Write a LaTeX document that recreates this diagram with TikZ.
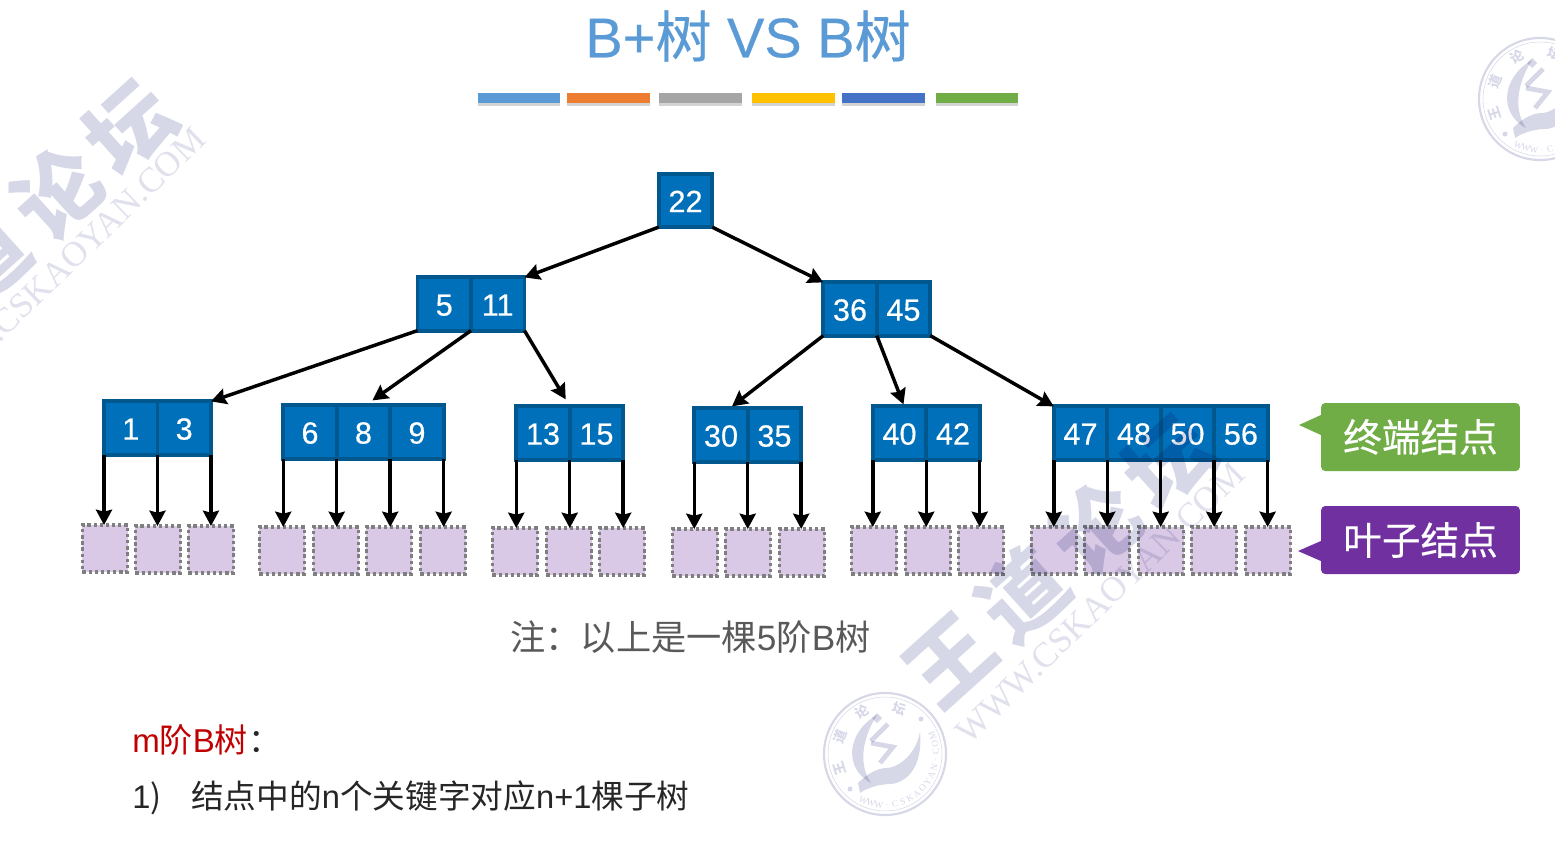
\documentclass[tikz,border=0pt]{standalone}
\usepackage{fontspec}
\usepackage{xcolor}
\setmainfont{Liberation Sans}
\newfontfamily\cjk{Noto Sans CJK SC}
\newfontfamily\heavy[FakeBold=0.35]{Liberation Sans}
\newfontfamily\heavycjk[FakeBold=0.35]{Noto Sans CJK SC}
\newfontfamily\wmserif{Liberation Serif}
\usetikzlibrary{positioning, shadows, arrows.meta}

\definecolor{titleblue}{HTML}{5B9BD5}
\definecolor{keyfill}{HTML}{0070BA}
\definecolor{keyline}{HTML}{00588F}
\definecolor{leaffill}{HTML}{D9C9E6}
\definecolor{leafline}{HTML}{7F7F7F}
\definecolor{wmcolor}{HTML}{D6D7E7}
\definecolor{wmlight}{HTML}{E0E1EC}
\definecolor{taggreen}{HTML}{70AD47}
\definecolor{tagpurple}{HTML}{7030A0}
\definecolor{notegray}{HTML}{595959}
\definecolor{notered}{HTML}{C00000}
\definecolor{notedark}{HTML}{262626}

% full width colon
\newcommand{\widecolon}{\char"FF1A\relax}

\tikzset{
    keycell/.style={draw=keyline, fill=keyfill, line width=2.9pt, outer sep=0pt, inner sep=0pt,
        minimum width=40.1pt, minimum height=39.9pt, text height=17.4pt, text depth=0pt, text=white,
        font=\fontsize{23}{23}\selectfont\heavy},
    leafcell/.style={draw=leafline, fill=leaffill, line width=2.5pt, dash pattern=on 2.5pt off 2.1pt,
        outer sep=0pt, minimum width=33.8pt, minimum height=35.2pt},
    link/.style={->, line width=2.6pt, black},
    tagbox/.style={rounded corners=3pt, inner sep=0pt, minimum width=149pt, minimum height=51pt,
        text=white, font=\fontsize{29}{29}\selectfont\heavycjk},
    bar/.style={drop shadow={shadow xshift=0pt, shadow yshift=-2.2pt, opacity=.35}},
    wmchar/.style={text=wmcolor, inner sep=0pt, rotate=42, font=\fontsize{64}{64}\selectfont\cjk\bfseries},
    wmurl/.style={text=wmlight, inner sep=0pt, rotate=44, font=\fontsize{26.4}{26.4}\selectfont\wmserif},
    stampchar/.style={text=wmcolor, inner sep=0pt, font=\fontsize{10}{10}\selectfont\cjk\bfseries},
    stampurl/.style={text=wmcolor, inner sep=0pt, font=\fontsize{7}{7}\selectfont\wmserif},
}

% big slanted mark, x y of the lower left character
\newcommand{\wmark}[3]{
    \foreach \ch [count=\i from 0] in {王,道,论,坛}
        \node[wmchar] (#3c\i) at (#1+73*\i, #2-66*\i) {\ch};
    \node[wmurl] (#3u) at (#1+150, #2-57) {WWW.CSKAOYAN.COM};
}

% round seal, x y of its centre
\newcommand{\wseal}[3]{
    \begin{scope}[shift={(#1,#2)}]
        \draw[wmcolor, line width=1.6pt] (0,0) circle (61);
        \draw[wmcolor, line width=.4pt] (0,0) circle (57);
        \fill[wmcolor] (36,-35) circle (2.5) (-35,35) circle (2.5);
        % crescent
        \fill[wmcolor] (-8,-39) .. controls (-38,-22) and (-42,14) .. (-14,29)
            .. controls (-26,12) and (-24,-14) .. (-8,-39);
        \fill[wmcolor] (-13,-36) -- (-8,-41) -- (-3,-36) -- (-8,-31) -- cycle;
        % open book
        \fill[wmcolor] (-27,29) .. controls (-16,18) and (-6,14) .. (2,14)
            .. controls (10,14) and (30,4) .. (35,-22)
            .. controls (38,10) and (24,28) .. (6,30)
            .. controls (-6,30) and (-18,34) .. (-25,39) -- cycle;
        % inner figure
        \draw[wmcolor, line width=3.6pt] (-14,-13) -- (3,-30);
        \draw[wmcolor, line width=3.6pt] (-14,-11) -- (8,-7) -- (-5,9);
        \foreach \ch/\ang [count=\i] in {王/198,道/159,论/118,坛/72}
            \node[stampchar, rotate=\ang-90] (#3c\i) at ({48*cos(\ang)}, {-48*sin(\ang)}) {\ch};
        \foreach \ch [count=\i from 0] in {W,W,W,.,C,S,K,A,O,Y,A,N,.,C,O,M} {
            \pgfmathsetmacro{\ang}{-115+9.07*\i}
            \node[stampurl, rotate=\ang+90] (#3u\i) at ({51*cos(\ang)}, {-51*sin(\ang)}) {\ch};
        }
    \end{scope}
}

\begin{document}
\begin{tikzpicture}[>={Stealth[length=11.5pt, width=12pt, inset=1.5pt]}, x=.75pt, y=-.75pt]
    \useasboundingbox (0,0) rectangle (1555,847);
    \clip (0,0) rectangle (1555,847);

    % title and colour bars
    \node[text=titleblue, font=\fontsize{42}{42}\selectfont\heavy] (title) at (748,36) {B+{\heavycjk 树} VS B{\heavycjk 树}};
    \foreach \xa/\xb/\col in {478/560/5B9BD5, 567/650/ED7D31, 659/742/A5A5A5, 752/835/FFC000, 842/925/4472C4, 936/1018/70AD47} {
        \definecolor{barcol}{HTML}{\col}
        \fill[bar, barcol] (\xa,93) rectangle (\xb,103);
    }

    % key cells, root first
    \node[keycell] (n22) at (685.5,200.5) {22};

    \node[keycell] (n5) at (444.25,304) {5};
    \node[keycell, right=0pt of n5] (n11) {11};
    \node[keycell] (n36) at (850,309) {36};
    \node[keycell, right=0pt of n36] (n45) {45};

    \node[keycell] (n1) at (130.75,428) {1};
    \node[keycell, right=0pt of n1] (n3) {3};
    \node[keycell] (n6) at (310,432) {6};
    \node[keycell, right=0pt of n6] (n8) {8};
    \node[keycell, right=0pt of n8] (n9) {9};
    \node[keycell] (n13) at (543,433) {13};
    \node[keycell, right=0pt of n13] (n15) {15};
    \node[keycell] (n30) at (721,435) {30};
    \node[keycell, right=0pt of n30] (n35) {35};
    \node[keycell] (n40) at (899.5,433) {40};
    \node[keycell, right=0pt of n40] (n42) {42};
    \node[keycell] (n47) at (1080.5,433) {47};
    \node[keycell, right=0pt of n47] (n48) {48};
    \node[keycell, right=0pt of n48] (n50) {50};
    \node[keycell, right=0pt of n50] (n56) {56};

    % leaves
    \foreach \x/\y/\name in {105/548.5/a1, 158/549.5/a2, 211/549.5/a3,
        282/550.5/b1, 336/550.5/b2, 389/550.5/b3, 443/550.5/b4,
        515/551.5/c1, 569/551.5/c2, 622/551.5/c3,
        695/552.5/d1, 748/552.5/d2, 802/552.5/d3,
        874/550.5/e1, 928/550.5/e2, 981/550.5/e3,
        1054/550.5/f1, 1107/550.5/f2, 1161/550.5/f3, 1214/550.5/f4, 1268/550.5/f5}
        \node[leafcell] (\name) at (\x,\y) {};

    % links between key cells
    \draw[link] (n22.south west) -- (n11.north east);
    \draw[link] (n22.south east) -- (n36.north west);
    \draw[link] (n5.south west) -- (n3.north east);
    \draw[link] (n5.south east) -- ([shift={(9,-5)}]n8.north);
    \draw[link] (n11.south east) -- ([shift={(-4,-7)}]n13.north east);
    \draw[link] (n36.south west) -- ([shift={(11,-2)}]n30.north);
    \draw[link] (n36.south east) -- ([shift={(4,-2)}]n40.north);
    \draw[link] (n45.south east) -- (n47.north west);

    % links down to the leaves
    \foreach \from/\to in {n1.south west/a1, n1.south east/a2, n3.south east/a3,
        n6.south west/b1, n6.south east/b2, n8.south east/b3, n9.south east/b4,
        n13.south west/c1, n13.south east/c2, n15.south east/c3,
        n30.south west/d1, n30.south east/d2, n35.south east/d3,
        n40.south west/e1, n40.south east/e2, n42.south east/e3,
        n47.south west/f1, n47.south east/f2, n48.south east/f3, n50.south east/f4, n56.south east/f5}
        \draw[link] (\from) -- (\from |- \to.north);

    % the two tags
    \node[tagbox, fill=taggreen] (tagend) at (1420.5,437) {终端结点};
    \fill[taggreen] (tagend.west |- 0,415) -- (1299,425) -- (tagend.west |- 0,435) -- cycle;
    \node[tagbox, fill=tagpurple] (tagleaf) at (1420.5,540) {叶子结点};
    \fill[tagpurple] (tagleaf.west |- 0,541) -- (1298,551) -- (tagleaf.west |- 0,561) -- cycle;

    % notes
    \node[text=notegray, font=\fontsize{26.4}{26.4}\selectfont, inner sep=0pt] (note) at (690.5,637)
        {{\cjk 注\widecolon 以上是一棵}5{\cjk 阶}B{\cjk 树}};
    \node[text=notered, font=\fontsize{24.8}{24.8}\selectfont, inner sep=0pt, anchor=base west] (title2) at (132,752)
        {m{\cjk 阶}B{\cjk 树}\textcolor{notedark}{\cjk \widecolon}};
    \node[text=notedark, font=\fontsize{24.5}{24.5}\selectfont, inner sep=0pt, anchor=base west] (rule1) at (132,808)
        {1{\cjk )}};
    \node[text=notedark, font=\fontsize{24.5}{24.5}\selectfont, inner sep=0pt, anchor=base west] (rule2) at (191,808)
        {{\cjk 结点中的}n{\cjk 个关键字对应}n+1{\cjk 棵子树}};

    % watermark on top of everything
    \begin{scope}[blend mode=multiply]
        \wmark{950}{660}{wr}
        \wmark{-89}{325}{wl}
        \wseal{885}{754}{sb}
        \wseal{1540}{99}{st}
    \end{scope}
\end{tikzpicture}
\end{document}
